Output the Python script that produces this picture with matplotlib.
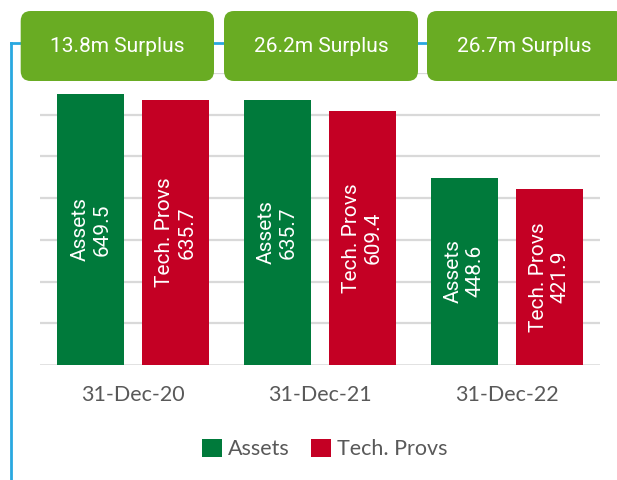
import matplotlib
matplotlib.use("Agg")
import matplotlib.pyplot as plt
from matplotlib.patches import FancyBboxPatch, Patch
from matplotlib.lines import Line2D
import numpy as np

categories = ["31-Dec-20", "31-Dec-21", "31-Dec-22"]
assets = [649.5, 635.7, 448.6]
tech_provs = [635.7, 609.4, 421.9]
series_names = ["Assets", "Tech. Provs"]
surplus_labels = ["13.8m Surplus", "26.2m Surplus", "26.7m Surplus"]

GREEN = "#007A3B"
RED = "#C40024"
BOX = "#69AC23"
BLUE = "#29A8E0"
GRID = "#D9D9D9"
TXT = "#595959"

W, H = 617, 480
fig = plt.figure(figsize=(W / 100, H / 100), dpi=100)
fig.patch.set_facecolor("white")

def fx(px):
    return px / W

def fy(py):
    return 1 - py / H

ax = fig.add_axes([fx(40), fy(365), fx(600) - fx(40), fy(72.75) - fy(365)])
ax.set_xlim(-0.5, 2.5)
ax.set_ylim(0, 700)
ax.set_yticks(np.arange(100, 701, 100))
ax.yaxis.grid(True, color=GRID, linewidth=1.6)
ax.set_axisbelow(True)
for s in ax.spines.values():
    s.set_visible(False)
ax.axhline(0, color=GRID, linewidth=1.8, zorder=1)
ax.tick_params(axis="y", left=False, labelleft=False)
ax.tick_params(axis="x", bottom=False, labelsize=15.5, labelcolor=TXT, pad=11)
x = np.arange(len(categories))
ax.set_xticks(x)
ax.set_xticklabels(categories, fontfamily="Lato")

bw = 0.36
off = 0.228
b1 = ax.bar(x - off, assets, bw, color=GREEN, zorder=2)
b2 = ax.bar(x + off, tech_provs, bw, color=RED, zorder=2)
for xi, v in zip(x, assets):
    ax.text(xi - off, v / 2, f"{series_names[0]}\n{v:.1f}", rotation=90,
            ha="center", va="center", multialignment="center",
            color="white", fontsize=15, fontfamily="Roboto", zorder=3)
for xi, v in zip(x, tech_provs):
    ax.text(xi + off, v / 2, f"{series_names[1]}\n{v:.1f}", rotation=90,
            ha="center", va="center", multialignment="center",
            color="white", fontsize=15, fontfamily="Roboto", zorder=3)

# blue bracket line
fig.add_artist(Line2D([fx(10.7), fx(10.7)], [fy(43), fy(482)], color=BLUE,
                      linewidth=2, transform=fig.transFigure, zorder=5))
fig.add_artist(Line2D([fx(10.7), fx(617)], [fy(43), fy(43)], color=BLUE,
                      linewidth=2, transform=fig.transFigure, zorder=5))

# surplus boxes
box_x = [(20.7, 214), (224, 418), (427, 625)]
text_cx = [117, 321, 524]
for (x0, x1), cx, lab in zip(box_x, text_cx, surplus_labels):
    p = FancyBboxPatch((x0, H - 81), x1 - x0, 70,
                       boxstyle="round,pad=0,rounding_size=10",
                       facecolor=BOX, edgecolor="none",
                       transform=None, zorder=6)
    fig.add_artist(p)
    fig.text(fx(cx), fy(46), lab, ha="center", va="center", color="white",
             fontsize=15, fontfamily="Roboto", zorder=7)

handles = [Patch(facecolor=GREEN, label=series_names[0]),
           Patch(facecolor=RED, label=series_names[1])]
fig.legend(handles=handles, loc="center", bbox_to_anchor=(fx(325), fy(449)),
           ncol=2, frameon=False, prop={"family": "Lato", "size": 15.5},
           labelcolor=TXT, handlelength=0.9, handleheight=0.9,
           handletextpad=0.3, columnspacing=1.0)

fig.savefig("out.png", dpi=100)
